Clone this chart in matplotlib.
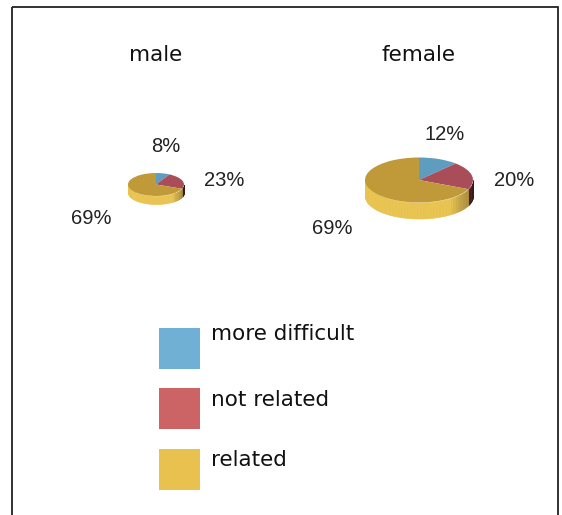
import numpy as np
import matplotlib
matplotlib.use("Agg")
import matplotlib.pyplot as plt
from matplotlib.patches import Rectangle
from matplotlib.colors import to_rgb

W, H = 562, 515
categories = ["more difficult", "not related", "related"]
male_values = [8, 23, 69]
female_values = [12, 20, 69]
group_names = ["male", "female"]

top_colors = ["#5E9CC0", "#A94E58", "#C09A38"]
side_colors = ["#5E9CC0", "#5A2428", "#E9C350"]
legend_colors = ["#70B0D4", "#CC6466", "#E9C14E"]
label_font = "Liberation Sans"
heading_font = "DejaVu Sans"

fig = plt.figure(figsize=(W / 100, H / 100), dpi=100, facecolor="white")
page = fig.add_axes([0, 0, 1, 1])
page.set_xlim(0, W)
page.set_ylim(H, 0)
page.axis("off")

# outer frame, running off the bottom edge
page.add_patch(Rectangle((11.5, 7), 546.5, 520, fill=False, ec="#222222", lw=1.3))


def shade(color, theta):
    """Darken a side colour towards the right-hand end of the rim."""
    rgb = np.array(to_rgb(color))
    x = np.sin(theta)
    k = 1.0 - 0.36 * np.clip((x - 0.55) / 0.45, 0, 1)
    return tuple(rgb * k)


def pie3d(values, cx, cy, rx, ry, depth):
    """Tilted pie: rim strips first, then a flattened matplotlib pie on top."""
    ax = fig.add_axes([(cx - rx) / W, 1 - (cy + ry + depth) / H,
                       2 * rx / W, (2 * ry + depth) / H])
    ax.patch.set_alpha(0)
    fractions = np.array(values, float) / sum(values)
    edges = np.concatenate([[0], np.cumsum(fractions)]) * 2 * np.pi
    d = depth / ry
    for i, color in enumerate(side_colors):
        # clockwise angle from 12 o'clock; the rim shows where cos < 0
        lo, hi = max(edges[i], np.pi / 2), min(edges[i + 1], 3 * np.pi / 2)
        if hi <= lo:
            continue
        bands = np.linspace(lo, hi, max(2, int((hi - lo) / 0.06)) + 1)
        for a, b in zip(bands[:-1], bands[1:]):
            t = np.linspace(a, b, 4)
            x = np.sin(t)
            y = np.cos(t)
            ax.fill_between(x, y, y - d, color=shade(color, (a + b) / 2),
                            lw=0.4, zorder=1)
    ax.pie(values, colors=top_colors, startangle=90, counterclock=False,
           radius=1, normalize=True, wedgeprops={"lw": 0, "zorder": 2})
    ax.set_aspect("auto")
    ax.set_xlim(-1, 1)
    ax.set_ylim(-1 - d, 1)
    ax.axis("off")


pie3d(male_values, 156, 184.5, 28, 11.5, 8)
pie3d(female_values, 419, 180, 54, 22.5, 16)

# group headings
for name, x in zip(group_names, [155.5, 418.5]):
    page.text(x, 55, name, ha="center", va="center", fontsize=15.5,
              family=heading_font, color="#111111")

# percentage labels around each pie
label_xy = [(166, 147), (224, 180), (91, 219)]
for v, (x, y) in zip(male_values, label_xy):
    page.text(x, y, f"{v}%", ha="center", va="center", fontsize=14.5,
              family=label_font, color="#222222")
label_xy = [(445, 134), (514, 181), (332, 229)]
for v, (x, y) in zip(female_values, label_xy):
    page.text(x, y, f"{v}%", ha="center", va="center", fontsize=14.5,
              family=label_font, color="#222222")

# legend
for name, color, y0, ty in zip(categories, legend_colors, [328, 388, 449],
                               [334, 400, 460]):
    page.add_patch(Rectangle((159, y0), 41, 41, fc=color, ec="none"))
    page.text(211, ty, name, ha="left", va="center", fontsize=15.5,
              family=heading_font, color="#111111")

fig.savefig("out.png", dpi=100, facecolor="white")
